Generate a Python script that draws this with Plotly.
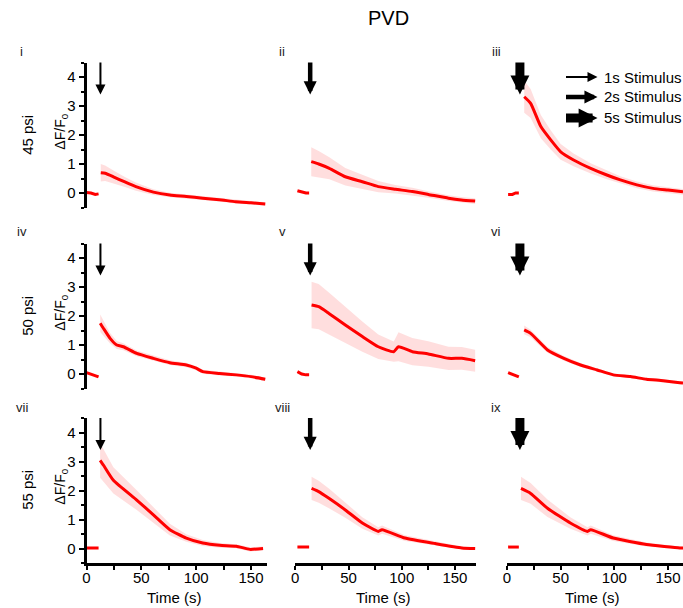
import plotly.graph_objects as go

W, H = 683, 608


def px(x):
    return x / W


def py(y):
    return 1 - y / H


# ---------------- text / categories ----------------
title_text = "PVD"
panel_labels = ["i", "ii", "iii", "iv", "v", "vi", "vii", "viii", "ix"]
pressure_labels = ["45 psi", "50 psi", "55 psi"]
stimulus_labels = ["1s Stimulus", "2s Stimulus", "5s Stimulus"]
x_tick_vals = [0, 50, 100, 150]
y_tick_vals = [0, 1, 2, 3, 4]
stim_onset = [12.7, 14.0, 12.0]          # s, arrow position per column

# ---------------- baselines (pre-stimulus) ----------------
baseline_t = [[0, 4, 8, 11], [2, 6, 10, 13], [1, 5, 8, 11]]
base_i = [0.02, 0.0, -0.05, -0.03]
base_ii = [0.08, 0.03, 0.0, 0.0]
base_iii = [-0.05, -0.05, 0.0, 0.0]
base_iv = [0.05, 0.0, -0.05, -0.1]
base_v = [0.08, 0.0, -0.03, -0.03]
base_vi = [0.05, 0.0, -0.05, -0.1]
base_vii = [0.02, 0.02, 0.02, 0.02]
base_viii = [0.05, 0.05, 0.05, 0.05]
base_ix = [0.05, 0.05, 0.05, 0.05]

# ---------------- responses: time, mean, s.e.m. ----------------
t_i = [13, 17, 25, 35, 45, 61, 76, 91, 106, 121, 136, 150, 163]
m_i = [0.70, 0.68, 0.55, 0.38, 0.22, 0.03, -0.07, -0.12, -0.18, -0.23, -0.30, -0.34, -0.38]
s_i = [0.30, 0.27, 0.22, 0.17, 0.14, 0.10, 0.08, 0.07, 0.07, 0.06, 0.06, 0.06, 0.06]

t_ii = [15, 22, 32, 47, 63, 78, 94, 110, 125, 144, 156, 169]
m_ii = [1.08, 1.00, 0.85, 0.56, 0.39, 0.22, 0.13, 0.05, -0.05, -0.18, -0.24, -0.28]
s_ii = [0.50, 0.45, 0.38, 0.30, 0.24, 0.19, 0.15, 0.13, 0.11, 0.10, 0.10, 0.10]

t_iii = [16, 22, 31.5, 40.7, 50, 62, 78, 93, 105.6, 121, 136, 150, 164]
m_iii = [3.32, 3.09, 2.29, 1.83, 1.42, 1.14, 0.85, 0.62, 0.45, 0.28, 0.16, 0.10, 0.04]
s_iii = [0.55, 0.50, 0.40, 0.33, 0.27, 0.22, 0.18, 0.15, 0.13, 0.12, 0.11, 0.10, 0.10]

t_iv = [12.5, 15.5, 21.5, 27.6, 33.6, 45.8, 61, 76, 91, 100, 106, 121.5, 136.6, 150, 163]
m_iv = [1.75, 1.57, 1.23, 1.00, 0.94, 0.71, 0.54, 0.39, 0.31, 0.20, 0.08, 0.02, -0.03, -0.09, -0.18]
s_iv = [0.30, 0.25, 0.18, 0.14, 0.12, 0.10, 0.09, 0.08, 0.08, 0.07, 0.07, 0.07, 0.06, 0.06, 0.06]

t_v = [15.3, 22, 31.6, 47, 63, 78, 92.5, 97, 110, 125, 144, 156.5, 169]
m_v = [2.38, 2.32, 2.09, 1.69, 1.29, 0.94, 0.77, 0.94, 0.77, 0.69, 0.54, 0.54, 0.46]
s_v = [0.80, 0.78, 0.72, 0.62, 0.52, 0.42, 0.35, 0.50, 0.47, 0.44, 0.40, 0.39, 0.38]

t_vi = [16, 22, 37.7, 53, 68.5, 84, 99, 115, 130, 145.6, 161, 164]
m_vi = [1.52, 1.40, 0.83, 0.54, 0.31, 0.14, -0.03, -0.09, -0.18, -0.23, -0.30, -0.31]
s_vi = [0.15, 0.13, 0.10, 0.08, 0.07, 0.06, 0.05, 0.05, 0.05, 0.05, 0.05, 0.05]

t_vii = [12.4, 15.5, 24.5, 45.8, 61, 76, 91, 106, 121.5, 136.6, 149, 161]
m_vii = [3.04, 2.87, 2.35, 1.67, 1.16, 0.65, 0.36, 0.19, 0.11, 0.08, -0.03, 0.0]
s_vii = [0.60, 0.55, 0.45, 0.34, 0.27, 0.20, 0.13, 0.10, 0.08, 0.07, 0.07, 0.07]

t_viii = [15.3, 22, 31.6, 47, 63, 78, 81.5, 103, 131.5, 156.5, 169]
m_viii = [2.07, 1.96, 1.73, 1.33, 0.88, 0.59, 0.65, 0.36, 0.17, 0.02, 0.0]
s_viii = [0.40, 0.38, 0.34, 0.27, 0.20, 0.14, 0.14, 0.10, 0.07, 0.05, 0.05]

t_ix = [13, 22, 37.7, 59, 75, 78, 99, 130, 161, 164]
m_ix = [2.07, 1.90, 1.39, 0.88, 0.59, 0.65, 0.36, 0.14, 0.02, 0.02]
s_ix = [0.40, 0.36, 0.30, 0.20, 0.14, 0.14, 0.10, 0.07, 0.05, 0.05]

panels = [
    (t_i, m_i, s_i, base_i), (t_ii, m_ii, s_ii, base_ii), (t_iii, m_iii, s_iii, base_iii),
    (t_iv, m_iv, s_iv, base_iv), (t_v, m_v, s_v, base_v), (t_vi, m_vi, s_vi, base_vi),
    (t_vii, m_vii, s_vii, base_vii), (t_viii, m_viii, s_viii, base_viii), (t_ix, m_ix, s_ix, base_ix),
]

# ---------------- layout geometry (screen pixels) ----------------
col_px = [(83, 265), (293, 475), (506, 683)]
col_range = [[0, 165], [0, 170], [0, 164]]
row_px = [(62.5, 207.5), (243.5, 388.5), (418, 563)]

FONT = "Liberation Sans, Arial, sans-serif"
RED = "#ff0000"
BAND = "rgba(255,0,0,0.13)"
arrow_styles = [  # (width, size) per stimulus duration
    (2.0, 1.0), (4.5, 0.58), (9.0, 0.42)
]

fig = go.Figure()
layout = dict(
    width=W, height=H, margin=dict(l=0, r=0, t=0, b=0),
    paper_bgcolor="white", plot_bgcolor="white", showlegend=False,
    font=dict(family=FONT, color="black", size=15),
)
annotations = []

for k, (t, m, s, base) in enumerate(panels):
    r, c = divmod(k, 3)
    sx = "" if k == 0 else str(k + 1)
    xref, yref = "x" + sx, "y" + sx
    upper = [a + b for a, b in zip(m, s)]
    lower = [a - b for a, b in zip(m, s)]
    fig.add_trace(go.Scatter(
        x=t + t[::-1], y=upper + lower[::-1], fill="toself", fillcolor=BAND,
        line=dict(width=0), mode="lines", xaxis=xref, yaxis=yref, hoverinfo="skip"))
    fig.add_trace(go.Scatter(
        x=t, y=m, mode="lines", line=dict(color=RED, width=3, shape="spline", smoothing=0.5),
        xaxis=xref, yaxis=yref))
    fig.add_trace(go.Scatter(
        x=baseline_t[c], y=base, mode="lines", line=dict(color=RED, width=3),
        xaxis=xref, yaxis=yref))

    x0, x1 = col_px[c]
    y0, y1 = row_px[r]
    layout["xaxis" + sx] = dict(
        domain=[px(x0), min(px(x1), 1.0)], range=col_range[c], anchor=yref,
        visible=(r == 2), showline=True, linecolor="black", linewidth=3,
        ticks="outside", tickvals=x_tick_vals, ticklen=4, tickwidth=2, tickcolor="black",
        ticklabelstandoff=-5,
        minor=dict(dtick=25, tick0=0, ticks="outside", ticklen=4, tickwidth=2, tickcolor="black"),
        showgrid=False, zeroline=False, tickfont=dict(size=15, family=FONT),
    )
    layout["yaxis" + sx] = dict(
        domain=[py(y1), py(y0)], range=[-0.5, 4.5], anchor=xref,
        visible=(c == 0), showline=True, linecolor="black", linewidth=3,
        ticks="outside", tickvals=y_tick_vals, ticklen=5, tickwidth=2, tickcolor="black",
        minor=dict(dtick=0.5, tick0=0, ticks="outside", ticklen=3, tickwidth=2, tickcolor="black"),
        showgrid=False, zeroline=False, tickfont=dict(size=15, family=FONT),
    )

    # stimulus arrow
    aw, asz = arrow_styles[c]
    annotations.append(dict(
        x=stim_onset[c], y=3.4, ax=stim_onset[c], ay=4.55, xref=xref, yref=yref,
        axref=xref, ayref=yref, text="", showarrow=True, arrowhead=2,
        arrowwidth=aw, arrowsize=asz, arrowcolor="black", standoff=0))

    # panel label
    annotations.append(dict(
        x=px([18, 280, 495][c]), y=py([52, 232, 407][r]), xref="paper", yref="paper",
        text=panel_labels[k], showarrow=False, xanchor="center", yanchor="middle",
        font=dict(size=13, color="#222")))

# row labels and y titles
row_centers = [135, 316, 490]
for r in range(3):
    annotations.append(dict(
        x=px(23), y=py(row_centers[r]), xref="paper", yref="paper",
        text=pressure_labels[r], textangle=-90, showarrow=False,
        xanchor="center", yanchor="middle", font=dict(size=15)))
    annotations.append(dict(
        x=px(57), y=py(row_centers[r] - 3), xref="paper", yref="paper",
        text="ΔF/F<sub>0</sub>", textangle=-90, showarrow=False,
        xanchor="center", yanchor="middle", font=dict(size=14)))

# x titles
for c in range(3):
    annotations.append(dict(
        x=px(sum(col_px[c]) / 2 - 3), y=py(597), xref="paper", yref="paper",
        text="Time (s)", showarrow=False, xanchor="center", yanchor="middle",
        font=dict(size=15)))

# title
annotations.append(dict(
    x=px(387), y=py(18), xref="paper", yref="paper", text=title_text,
    showarrow=False, xanchor="center", yanchor="middle", font=dict(size=20)))

# arrow legend
legend_y = [77, 97, 118]
for i, lab in enumerate(stimulus_labels):
    aw, asz = arrow_styles[i]
    annotations.append(dict(
        x=px(597), y=py(legend_y[i]), xref="paper", yref="paper",
        ax=-33, ay=0, text="", showarrow=True, arrowhead=2,
        arrowwidth=aw, arrowsize=asz, arrowcolor="black", standoff=0))
    annotations.append(dict(
        x=px(602), y=py(legend_y[i]), xref="paper", yref="paper",
        text=lab, showarrow=False, xanchor="left", yanchor="middle",
        font=dict(size=15)))

layout["annotations"] = annotations
fig.update_layout(**layout)
fig.write_html(
    "out.html",
    config={"displayModeBar": False},
    post_script="document.body.style.margin='0px';document.body.style.overflow='hidden';",
)
